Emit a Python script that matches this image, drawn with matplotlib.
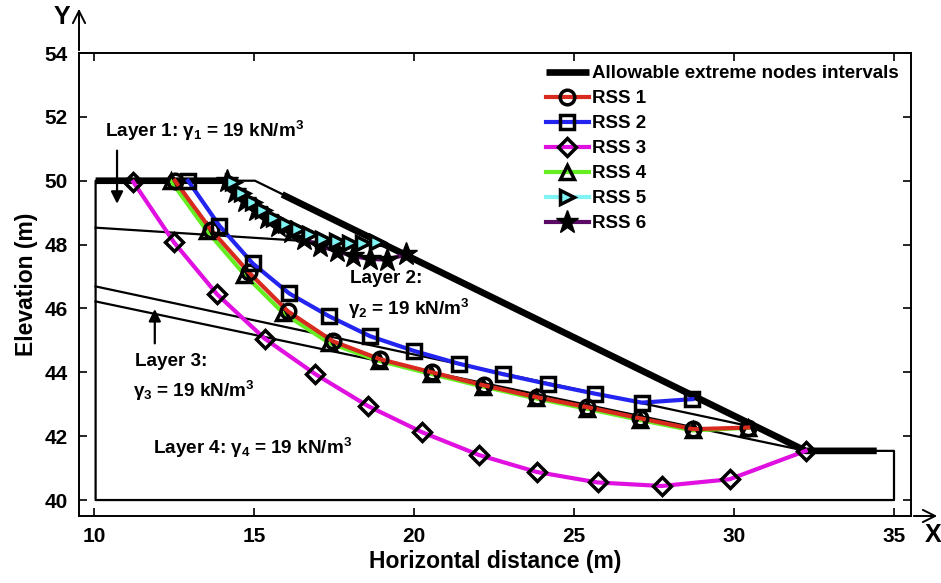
"""Slope cross-section with the six representative slip surfaces (RSS 1-6)."""
import numpy as np
import matplotlib
matplotlib.use("Agg")
import matplotlib.pyplot as plt

plt.rcParams["font.family"] = ["Liberation Sans", "DejaVu Sans"]
plt.rcParams["font.weight"] = "bold"
plt.rcParams["mathtext.fontset"] = "custom"
plt.rcParams["mathtext.rm"] = "Liberation Sans:bold"
plt.rcParams["mathtext.it"] = "Liberation Sans"
plt.rcParams["mathtext.bf"] = "Liberation Sans:bold"

# slope geometry
outline_x = [32.24, 35.0, 35.0, 10.05, 10.05, 15.03, 32.24]
outline_y = [41.54, 41.54, 40.0, 40.0, 50.0, 50.0, 41.54]
layer12_x = [10.05, 19.1]
layer12_y = [48.53, 47.95]
layer23_x = [10.05, 30.45]
layer23_y = [46.69, 42.32]
layer34_x = [10.05, 32.24]
layer34_y = [46.22, 41.54]

# allowable extreme nodes intervals (three pieces)
allow_x = [10.05, 14.16, np.nan, 15.88, 32.24, 34.46]
allow_y = [50.0, 50.0, np.nan, 49.57, 41.54, 41.54]

rss1_x = [12.53, 13.65, 14.84, 16.06, 17.47, 18.94, 20.56, 22.19, 23.84,
          25.41, 27.06, 28.72, 30.44]
rss1_y = [50.0, 48.47, 47.13, 45.91, 44.97, 44.41, 44.0, 43.59, 43.22,
          42.91, 42.56, 42.22, 42.27]

rss2_x = [12.94, 13.92, 14.96, 16.10, 17.34, 18.63, 20.0, 21.40, 22.79,
          24.20, 25.66, 27.12, 28.70]
rss2_y = [50.0, 48.59, 47.41, 46.47, 45.76, 45.13, 44.67, 44.27, 43.94,
          43.63, 43.33, 43.05, 43.16]

rss3_x = [11.23, 12.50, 13.85, 15.34, 16.92, 18.55, 20.26, 22.03, 23.83,
          25.74, 27.74, 29.86, 32.24]
rss3_y = [49.96, 48.07, 46.44, 45.05, 43.94, 42.95, 42.12, 41.41, 40.88,
          40.55, 40.44, 40.65, 41.54]

rss4_x = [12.40, 13.52, 14.70, 15.92, 17.35, 18.90, 20.53, 22.17, 23.82,
          25.40, 27.05, 28.71, 30.44]
rss4_y = [50.0, 48.44, 47.06, 45.85, 44.92, 44.36, 43.95, 43.55, 43.18,
          42.86, 42.51, 42.18, 42.26]

rss5_x = [14.35, 14.62, 14.96, 15.29, 15.63, 16.0, 16.38, 16.75, 17.17,
          17.58, 18.0, 18.42, 18.83]
rss5_y = [49.97, 49.63, 49.33, 49.08, 48.84, 48.63, 48.48, 48.34, 48.19,
          48.10, 48.05, 48.05, 48.08]

rss6_x = [14.16, 14.41, 14.72, 15.06, 15.41, 15.75, 16.16, 16.56, 17.06,
          17.59, 18.09, 18.63, 19.16, 19.75]
rss6_y = [50.0, 49.66, 49.38, 49.09, 48.84, 48.59, 48.38, 48.16, 47.95,
          47.80, 47.64, 47.55, 47.53, 47.69]

fig = plt.figure(figsize=(9.41, 5.83), dpi=100)
ax = fig.add_axes([79 / 941, 1 - 516 / 583, 832 / 941, 463 / 583])

ax.plot(outline_x, outline_y, color="k", lw=1.6, zorder=2)
ax.plot(layer12_x, layer12_y, color="k", lw=1.6, zorder=2)
ax.plot(layer23_x, layer23_y, color="k", lw=1.6, zorder=2)
ax.plot(layer34_x, layer34_y, color="k", lw=1.6, zorder=2)
ax.plot(allow_x, allow_y, color="k", lw=4.8, solid_capstyle="butt",
        zorder=3, label="Allowable extreme nodes intervals")

mk = dict(ms=10.5, mew=2.5, mec="k", lw=3.0)
ax.plot(rss4_x, rss4_y, "-^", color="#66ee22", mfc="none", zorder=4,
        label="RSS 4", **mk)
ax.plot(rss1_x, rss1_y, "-o", color="#d92a1f", mfc="none", zorder=5,
        label="RSS 1", **mk)
ax.plot(rss2_x, rss2_y, "-s", color="#2424f0", mfc="none", zorder=5,
        label="RSS 2", **mk)
ax.plot(rss3_x, rss3_y, "-D", color="#e010e0", mfc="none", zorder=5,
        label="RSS 3", ms=9, mew=2.5, mec="k", lw=3.0)
ax.plot(rss6_x, rss6_y, "-*", color="#5a0a64", mfc="k", zorder=4,
        label="RSS 6", ms=17, mew=1.0, mec="k", lw=3.0)
ax.plot(rss5_x, rss5_y, "->", color="#80f4f4", mfc="#80f4f4", zorder=5,
        label="RSS 5", **mk)

# layer annotations
tkw = dict(fontsize=13.6, fontweight="bold", va="baseline", ha="left")
ax.text(10.34, 51.36, r"Layer 1: $\gamma_1$ = 19 kN/m$^3$", **tkw)
ax.text(18.0, 46.80, "Layer 2:", **tkw)
ax.text(17.95, 45.81, r"$\gamma_2$ = 19 kN/m$^3$", **tkw)
ax.text(11.28, 44.20, "Layer 3:", **tkw)
ax.text(11.23, 43.24, r"$\gamma_3$ = 19 kN/m$^3$", **tkw)
ax.text(11.85, 41.44, r"Layer 4: $\gamma_4$ = 19 kN/m$^3$", **tkw)
akw = dict(arrowstyle="-|>", color="k", lw=1.6, mutation_scale=18)
ax.annotate("", xy=(10.72, 49.19), xytext=(10.72, 51.03), arrowprops=akw)
ax.annotate("", xy=(11.9, 46.07), xytext=(11.9, 44.82), arrowprops=akw)

ax.set_xlim(10 - 15 / 32, 35 + 17 / 32)
ax.set_ylim(39.5, 54.0)
ax.set_xticks(np.arange(10, 36, 5))
ax.set_yticks(np.arange(40, 55, 2))
ax.tick_params(direction="in", top=True, right=True, length=6, width=1.2,
               labelsize=15, pad=8)
for lab in ax.get_xticklabels() + ax.get_yticklabels():
    lab.set_fontweight("bold")
for sp in ax.spines.values():
    sp.set_linewidth(1.4)
ax.set_xlabel("Horizontal distance (m)", fontsize=16.5, fontweight="bold",
              labelpad=3)
ax.set_ylabel("Elevation (m)", fontsize=16.5, fontweight="bold", labelpad=5)

# axis arrows
arr = dict(arrowstyle="->", color="k", lw=1.4, mutation_scale=22)
ax.annotate("", xy=(79, 583 - 6), xytext=(79, 583 - 53),
            xycoords="figure pixels", textcoords="figure pixels",
            arrowprops=arr)
ax.annotate("", xy=(940, 583 - 516), xytext=(911, 583 - 516),
            xycoords="figure pixels", textcoords="figure pixels",
            arrowprops=arr)
fig.text(62 / 941, 1 - 17 / 583, "Y", fontsize=18, fontweight="bold",
         ha="center", va="center")
fig.text(933 / 941, 1 - 535 / 583, "X", fontsize=18, fontweight="bold",
         ha="center", va="center")

handles, labels = ax.get_legend_handles_labels()
order = ["Allowable extreme nodes intervals", "RSS 1", "RSS 2", "RSS 3",
         "RSS 4", "RSS 5", "RSS 6"]
hmap = dict(zip(labels, handles))
ax.legend([hmap[k] for k in order], order, loc="upper left",
          bbox_to_anchor=(0.552, 0.99), frameon=False,
          prop=dict(size=13.5, weight="bold"), handlelength=2.3,
          handletextpad=0.15, labelspacing=0.42, borderaxespad=0)

fig.savefig("out.png", dpi=100)
